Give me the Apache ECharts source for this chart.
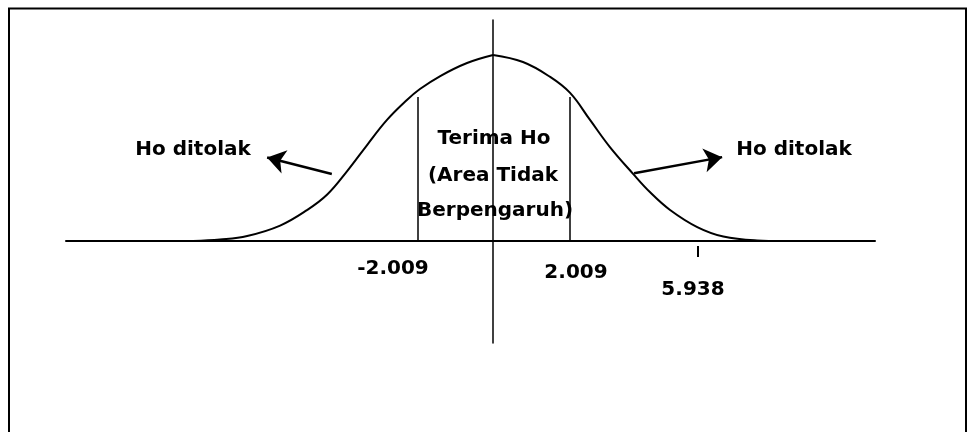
<!DOCTYPE html>
<html>
<head>
<meta charset="utf-8">
<script src="https://cdn.jsdelivr.net/npm/echarts@6/dist/echarts.min.js"></script>
<style>
  html, body { margin: 0; padding: 0; background: #fff; }
  #main { width: 968px; height: 432px; }
</style>
</head>
<body>
<div id="main"></div>
<script>
// kurva normal (satuan skematik, puncak = 1), digambar dua sisi supaya puncaknya runcing
const leftX = [-7.83, -7.13, -6.42, -5.56, -4.86, -4.33, -3.81, -3.29, -2.77, -2.25, -1.91, -1.38, -0.68, 0]
const leftY = [0, 0.008, 0.027, 0.083, 0.166, 0.250, 0.376, 0.516, 0.651, 0.758, 0.817, 0.887, 0.957, 1.0]
const rightX = [0, 0.78, 1.49, 2.01, 2.53, 3.05, 3.66, 4.10, 4.62, 5.33, 6.01, 6.89, 7.57]
const rightY = [1.0, 0.962, 0.882, 0.796, 0.651, 0.505, 0.360, 0.262, 0.167, 0.075, 0.024, 0.003, 0]
// batas daerah penerimaan (t tabel) dan t hitung
const critVals = [-1.97, 2.01]
const critHeight = 0.774
const tHitungPos = 5.33
const tickLabels = ['-2.009', '2.009', '5.938']

const chartDom = document.getElementById('main')
const myChart = echarts.init(chartDom)

function pairs(xs, ys) {
  return xs.map(function (x, i) {
    return [x, ys[i]]
  })
}

const curveLine = { color: '#000', width: 2 }
const arrowStyle = { color: '#000', width: 2.5, type: 'solid' }
const bold = {
  fontFamily: 'DejaVu Sans',
  fontWeight: 'bold',
  fontSize: 20,
  fill: '#000',
  textAlign: 'center',
  textVerticalAlign: 'middle',
}

let option = {
  animation: false,
  backgroundColor: '#fff',
  grid: {
    left: 66,
    right: 93,
    top: 20,
    bottom: 89,
  },
  xAxis: {
    type: 'value',
    min: -11.15,
    max: 9.97,
    axisLine: {
      show: true,
      onZero: true,
      lineStyle: { color: '#000', width: 2 },
    },
    axisTick: { show: false },
    axisLabel: { show: false },
    splitLine: { show: false },
  },
  yAxis: {
    type: 'value',
    min: -0.548,
    max: 1.188,
    axisLine: {
      show: true,
      onZero: true,
      lineStyle: { color: '#000', width: 1.5 },
    },
    axisTick: { show: false },
    axisLabel: { show: false },
    splitLine: { show: false },
  },
  series: [
    {
      name: 'kurva kiri',
      type: 'line',
      data: pairs(leftX, leftY),
      smooth: 0.4,
      symbol: 'none',
      lineStyle: curveLine,
      markLine: {
        silent: true,
        symbol: ['none', 'none'],
        label: { show: false },
        data: [
          // garis batas -t tabel dan +t tabel
          [
            { coord: [critVals[0], 0], lineStyle: { color: '#000', width: 1.5, type: 'solid' } },
            { coord: [critVals[0], critHeight] },
          ],
          [
            { coord: [critVals[1], 0], lineStyle: { color: '#000', width: 1.5, type: 'solid' } },
            { coord: [critVals[1], critHeight] },
          ],
          // tanda t hitung
          [
            { coord: [tHitungPos, -0.027], lineStyle: { color: '#000', width: 2, type: 'solid' } },
            { coord: [tHitungPos, -0.086] },
          ],
        ],
      },
    },
    {
      name: 'kurva kanan',
      type: 'line',
      data: pairs(rightX, rightY),
      smooth: 0.4,
      symbol: 'none',
      lineStyle: curveLine,
      markLine: {
        silent: true,
        symbol: ['none', 'arrow'],
        symbolSize: 18,
        label: { show: false },
        data: [
          [
            { coord: [-4.21, 0.36], lineStyle: arrowStyle },
            { coord: [-5.9, 0.449] },
          ],
          [
            { coord: [3.68, 0.364], lineStyle: arrowStyle },
            { coord: [5.98, 0.451] },
          ],
        ],
      },
    },
  ],
  graphic: [
    {
      type: 'rect',
      silent: true,
      shape: { x: 9, y: 8.5, width: 957, height: 440 },
      style: { fill: 'none', stroke: '#000', lineWidth: 2 },
    },
    { type: 'text', x: 193, y: 150, style: Object.assign({ text: 'Ho ditolak' }, bold) },
    { type: 'text', x: 794, y: 150, style: Object.assign({ text: 'Ho ditolak' }, bold) },
    { type: 'text', x: 494, y: 139, style: Object.assign({ text: 'Terima Ho' }, bold) },
    { type: 'text', x: 493, y: 176, style: Object.assign({ text: '(Area Tidak' }, bold) },
    { type: 'text', x: 495, y: 211, style: Object.assign({ text: 'Berpengaruh)' }, bold) },
    { type: 'text', x: 393, y: 269, style: Object.assign({ text: tickLabels[0] }, bold) },
    { type: 'text', x: 576, y: 273, style: Object.assign({ text: tickLabels[1] }, bold) },
    { type: 'text', x: 693, y: 290, style: Object.assign({ text: tickLabels[2] }, bold) },
  ],
}

myChart.setOption(option)

window.onresize = function () {
  myChart.resize()
}
</script>
</body>
</html>
